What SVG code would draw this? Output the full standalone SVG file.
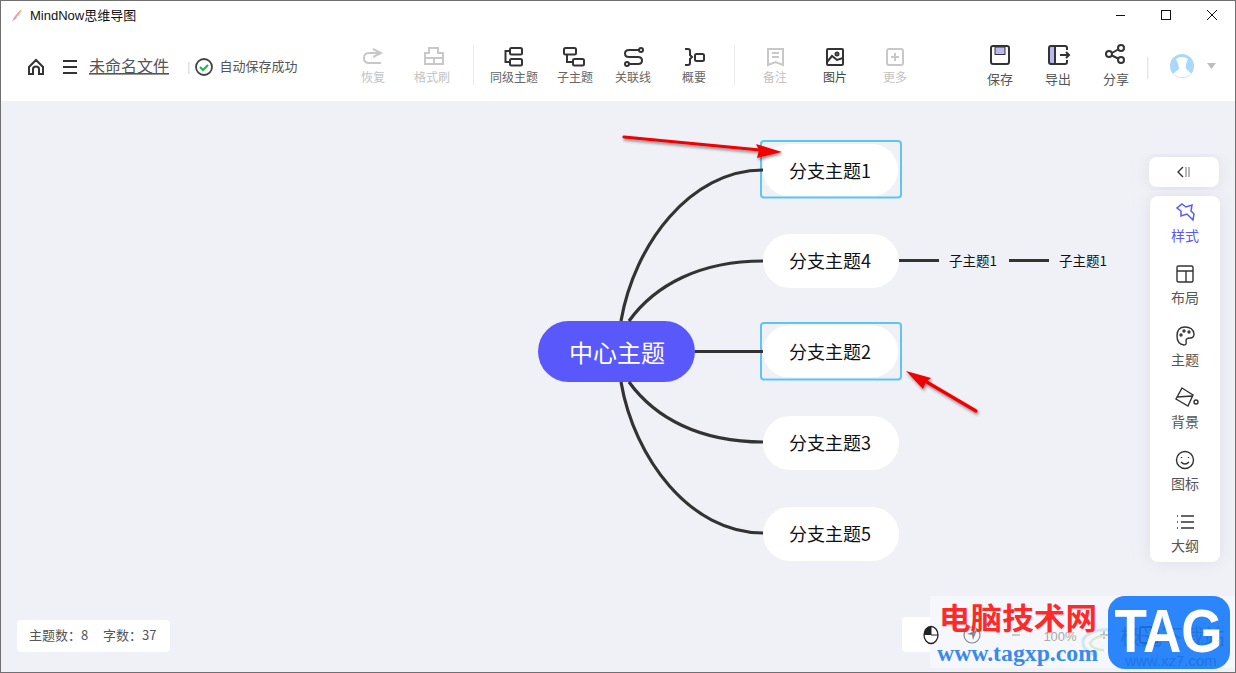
<svg xmlns="http://www.w3.org/2000/svg" width="1236" height="673" viewBox="0 0 1236 673">
<style>
text{font-family:"Noto Sans CJK SC","Liberation Sans",sans-serif}
.tb{font-size:12px;text-anchor:middle;fill:#666}
.off{font-size:12px;text-anchor:middle;fill:#c2c2c2}
.tb2{font-size:13px;text-anchor:middle;fill:#555}
.side{font-size:14px;text-anchor:middle;fill:#555}
.ic{fill:none;stroke:#333;stroke-width:2}
.icoff{fill:none;stroke:#c8c8c8;stroke-width:2}
.sic{fill:none;stroke:#333;stroke-width:1.400}
.node{fill:#fff}
.sel{fill:none;stroke:#5ec4f5;stroke-width:2}
.lab{font-size:18px;text-anchor:middle;fill:#111}
.sub{font-size:13.500px;text-anchor:middle;fill:#111}
.conn{fill:none;stroke:#333;stroke-width:3.200}
.ann{fill:none;stroke:#f00000;stroke-width:3.200;stroke-linecap:round}
</style>
<defs>
<filter id="sh" x="-20%" y="-50%" width="140%" height="200%"><feDropShadow dx="1" dy="2" stdDeviation="1.500" flood-color="#000" flood-opacity=".45"/></filter>
<filter id="pan" x="-30%" y="-10%" width="160%" height="120%"><feDropShadow dx="0" dy="0" stdDeviation="8" flood-color="#b8bcc8" flood-opacity=".35"/></filter>
</defs>
<rect width="1236" height="673" fill="#f0f1f6"/>
<g id="titlebar">
<rect x="0" y="0" width="1236" height="101" fill="#fff"/>
<path d="M14 17L20 10Q22 9 21.500 11Q20 15 17 17Z" fill="#f7b98a"/>
<path d="M14 17L17 17Q16 20 13 20Z" fill="#8fbdf2"/>
<path d="M12.500 21L19 12" stroke="#c9a0e8" stroke-width="1"/>
<text x="30" y="20" font-size="13" fill="#111" style="font-family:'Liberation Sans','Noto Sans CJK SC',sans-serif">MindNow思维导图</text>
<path d="M1116 15.500H1125" stroke="#111" stroke-width="1"/>
<rect x="1161.500" y="10.500" width="9" height="9" fill="none" stroke="#111"/>
<path d="M1207 10L1217 20M1217 10L1207 20" stroke="#111" stroke-width="1"/>
</g>
<g id="toolbar-left">
<path class="ic" d="M29 67L36 60L43 67V74H39V69Q39 66.500 36 66.500Q33 66.500 33 69V74H29Z"/>
<path d="M63 61H77M63 67H77M63 73H77" stroke="#333" stroke-width="2"/>
<text x="129" y="72" font-size="16" text-anchor="middle" fill="#555" text-decoration="underline">未命名文件</text>
<rect x="188" y="62" width="1.500" height="12" fill="#dfe1ea"/>
<circle cx="204" cy="67" r="8" fill="none" stroke="#444" stroke-width="1.800"/>
<path d="M200 67L203 70L208 65" fill="none" stroke="#18b84a" stroke-width="2"/>
<text x="258.500" y="71" font-size="13" text-anchor="middle" fill="#555">自动保存成功</text>
</g>
<g id="toolbar-center">
<path class="icoff" d="M373 49L381 53L373 57M380 53H369Q364 53 364 58Q364 63 369 63H381"/>
<text class="off" x="373" y="82">恢复</text>
<path class="icoff" d="M429 53V48H438V53H443V64H425V53ZM425 58H443M434 58V64"/>
<text class="off" x="432" y="82">格式刷</text>
<rect x="473" y="45" width="1" height="40" fill="#eaeaea"/>
<g class="ic"><rect x="510" y="48" width="12" height="6.500" rx="1.500"/><rect x="510" y="59" width="12" height="6.500" rx="1.500"/><path d="M510 51H505.500V62H510"/></g>
<text class="tb" x="514" y="82">同级主题</text>
<g class="ic"><rect x="564" y="48" width="12" height="6.500" rx="1.500"/><rect x="573" y="59" width="11" height="6.500" rx="1.500"/><path d="M567 54.500V62H573"/></g>
<text class="tb" x="575" y="82">子主题</text>
<g class="ic"><circle cx="641" cy="50" r="2"/><circle cx="627" cy="64" r="2"/><path d="M639 50H629Q625 50 625 53.500Q625 57 629 57H638Q642 57 642 60.500Q642 64 638 64H629"/></g>
<text class="tb" x="633" y="82">关联线</text>
<g class="ic"><path d="M685 49H688Q690 49 690 51V55L692 57L690 59V63Q690 65 688 65H685"/><rect x="695" y="54" width="9" height="7" rx="1.500"/></g>
<text class="tb" x="694" y="82">概要</text>
<rect x="734" y="45" width="1" height="40" fill="#eaeaea"/>
<path class="icoff" d="M768 49H783V65L775.500 62L768 65ZM772 53H779M772 57H779"/>
<text class="off" x="775" y="82">备注</text>
<g class="ic"><rect x="827" y="49" width="16" height="16" rx="1"/><circle cx="837" cy="54" r="1.500"/><path d="M827 62L832 56L837 60L843 58"/></g>
<text class="tb" x="835" y="82" style="fill:#444">图片</text>
<rect class="icoff" x="887" y="49" width="16" height="16" rx="2"/>
<path class="icoff" d="M895 53V61M891 57H899"/>
<text class="off" x="895" y="82">更多</text>
</g>
<g id="toolbar-right">
<rect x="991" y="46" width="18" height="18" rx="2" fill="#fff" stroke="#333" stroke-width="2"/>
<rect x="995" y="47" width="10" height="7.500" fill="#b9b8f0" stroke="#333" stroke-width="1"/>
<text class="tb2" x="1000" y="84">保存</text>
<rect x="1049" y="46" width="6" height="18" fill="#b9b8f0"/>
<path class="ic" d="M1067 50V48Q1067 46 1065 46H1051Q1049 46 1049 48V62Q1049 64 1051 64H1065Q1067 64 1067 62V60M1055 46V64M1060 55H1069M1066 52L1069 55L1066 58"/>
<text class="tb2" x="1058" y="84">导出</text>
<g class="ic"><circle cx="1121" cy="48" r="3"/><circle cx="1109" cy="54" r="3"/><circle cx="1121" cy="60" r="3"/><path d="M1112 53L1118 49.500M1112 55.500L1118 58.500"/></g>
<text class="tb2" x="1116" y="84">分享</text>
<rect x="1147" y="57" width="1.500" height="22" fill="#e6e8ee"/>
<circle cx="1182" cy="66" r="12" fill="#a9d8fb"/>
<path d="M1176 59Q1182 55 1188 59Q1185 64 1186 69Q1190 72 1191 74Q1182 81 1173 74Q1176 71 1179 69Q1179 64 1176 59Z" fill="#fff"/>
<path d="M1207 63H1216L1211.500 69Z" fill="#bdbdbd"/>
</g>
<g id="center"><rect x="538" y="321" width="157" height="61" rx="30.500" fill="#5858fb"/><text x="617" y="362" font-size="24" text-anchor="middle" fill="#fff">中心主题</text></g>
<g id="branch1"><rect class="node" x="763" y="144" width="135" height="52" rx="26"/><rect class="sel" x="761" y="141" width="140" height="56.500" rx="3"/><text class="lab" x="830" y="178">分支主题1</text></g>
<g id="branch4"><rect class="node" x="763" y="234" width="136" height="54" rx="27"/><text class="lab" x="830" y="268">分支主题4</text></g>
<g id="branch2"><rect class="node" x="763" y="325.500" width="135" height="52" rx="26"/><rect class="sel" x="761" y="323" width="140" height="56.500" rx="3"/><text class="lab" x="830" y="359">分支主题2</text></g>
<g id="branch3"><rect class="node" x="763" y="416" width="136" height="54" rx="27"/><text class="lab" x="830" y="450">分支主题3</text></g>
<g id="branch5"><rect class="node" x="763" y="507" width="136" height="54" rx="27"/><text class="lab" x="830" y="541">分支主题5</text></g>
<g id="sub1"><text class="sub" x="973" y="265.500">子主题1</text></g>
<g id="sub2"><text class="sub" x="1083" y="265.500">子主题1</text></g>
<g id="connectors">
<path class="conn" d="M621 321C634 245 690 170 763 170"/>
<path class="conn" d="M629 321C655 285 700 261 763 261"/>
<path class="conn" d="M695 351.500H763"/>
<path class="conn" d="M629 382C655 418 700 442 763 442"/>
<path class="conn" d="M621 382C634 458 690 533 763 533"/>
<path class="conn" d="M899 260.500H939"/>
<path class="conn" d="M1009 260.500H1049"/>
</g>
<g id="annotations" filter="url(#sh)">
<path class="ann" d="M624 137L760 150"/>
<path d="M782 152L756 144L759 150L757 158Z" fill="#f00000"/>
<path class="ann" d="M976 411L925 381"/>
<path d="M906 371L931 378L926 382L923 389Z" fill="#f00000"/>
</g>
<g id="sidebar">
<rect x="1149" y="157" width="70" height="30" rx="8" fill="#fff" filter="url(#pan)"/>
<path d="M1183 167L1178 172L1183 177" fill="none" stroke="#333" stroke-width="1.400"/>
<path d="M1186 167V177M1189 167V177" stroke="#888" stroke-width="1.200"/>
<rect x="1150" y="196" width="70" height="366" rx="8" fill="#fff" filter="url(#pan)"/>
<path d="M1182 204L1186 207L1192 205L1191 211L1194 214L1193 220L1187 214L1181 216L1181 211L1177 208Z" fill="none" stroke="#5858fb" stroke-width="1.500"/>
<text class="side" x="1185" y="241" style="fill:#5858fb">样式</text>
<g class="sic"><rect x="1177" y="266" width="16" height="16" rx="1.500"/><path d="M1177 271H1193M1186 271V282"/></g>
<text class="side" x="1185" y="303">布局</text>
<path class="sic" d="M1185 327Q1177 327 1177 336Q1177 344 1184 345Q1187 345 1186 341Q1186 338 1190 338Q1194 338 1194 334Q1193 327 1185 327Z"/>
<circle class="sic" cx="1181" cy="335" r="1"/><circle class="sic" cx="1184" cy="331" r="1"/><circle class="sic" cx="1189" cy="332" r="1"/>
<text class="side" x="1185" y="365">主题</text>
<path class="sic" d="M1182 388L1193 395L1188 406L1176 399ZM1177.500 397L1192 396"/><circle class="sic" cx="1196" cy="402" r="2"/>
<text class="side" x="1185" y="427">背景</text>
<circle class="sic" cx="1185" cy="460" r="8.500"/><path class="sic" d="M1181 462Q1185 466 1189 462M1181.500 457V458M1188.500 457V458"/>
<text class="side" x="1185" y="489">图标</text>
<path class="sic" d="M1181 516H1194M1181 522H1194M1181 528H1194M1177 516H1178M1177 522H1178M1177 528H1178"/>
<text class="side" x="1185" y="551">大纲</text>
</g>
<g id="status"><rect x="17" y="620" width="153" height="32" rx="4" fill="#fff"/><text x="29" y="640" font-size="13" fill="#555">主题数：8</text><text x="103" y="640" font-size="13" fill="#555">字数：37</text></g>
<g id="zoombar">
<rect x="902" y="617" width="30" height="35" rx="4" fill="#fff"/>
</g>
<g id="watermark">
<rect x="930" y="596" width="306" height="72" fill="#f5f7fc"/>
<ellipse cx="931" cy="635" rx="7" ry="8.500" fill="#fff" stroke="#222" stroke-width="1.300"/>
<path d="M931 626.500A7 8.500 0 0 0 924 635H931Z" fill="#222"/>
<path d="M931 626.500V635H938" fill="none" stroke="#222" stroke-width="1"/>
<circle cx="972" cy="635" r="8" fill="none" stroke="#888" stroke-width="1.200"/>
<path d="M967 634L977 630L973 640L972 635Z" fill="#888"/>
<path d="M1012 635H1020" stroke="#bbb" stroke-width="1.500"/>
<text x="1060" y="641" font-size="13" text-anchor="middle" fill="#aaa" style="font-family:'Liberation Sans',sans-serif">100%</text>
<path d="M1100 635H1108M1104 631V639" stroke="#aaa" stroke-width="1.500"/>
<path d="M1112 630Q1090 628 1083 640Q1082 652 1098 656" fill="none" stroke="#cfe6f2" stroke-width="3"/>
<path d="M1106 636Q1094 636 1090 643Q1092 650 1104 650" fill="none" stroke="#d6ead0" stroke-width="2.500"/>
<text x="939" y="629" font-size="30" font-weight="700" fill="#fe2a2a" textLength="158" lengthAdjust="spacingAndGlyphs">电脑技术网</text>
<text x="937" y="661" font-size="23" font-weight="700" fill="#3a8ae8" style="font-family:'Liberation Serif',serif" textLength="161" lengthAdjust="spacingAndGlyphs">www.tagxp.com</text>
<rect x="1108" y="596" width="122" height="73" rx="17" fill="#2c86fb"/>
<text x="1120" y="644" font-size="21" fill="#1f74e2" textLength="105" lengthAdjust="spacingAndGlyphs">极光下载站</text>
<rect x="1140" y="627" width="18" height="16" rx="1.500" fill="none" stroke="#1a62c4" stroke-width="1.300"/>
<text x="1168.500" y="652" font-size="61" font-weight="700" text-anchor="middle" fill="#fff" style="font-family:'Liberation Sans',sans-serif" textLength="108" lengthAdjust="spacingAndGlyphs">TAG</text>
<text x="1171" y="666" font-size="15" text-anchor="middle" fill="#1f74e2" style="font-family:'Liberation Sans',sans-serif">www.xz7.com</text>
</g>
<rect x=".5" y=".5" width="1235" height="672" fill="none" stroke="#707070"/>
</svg>
